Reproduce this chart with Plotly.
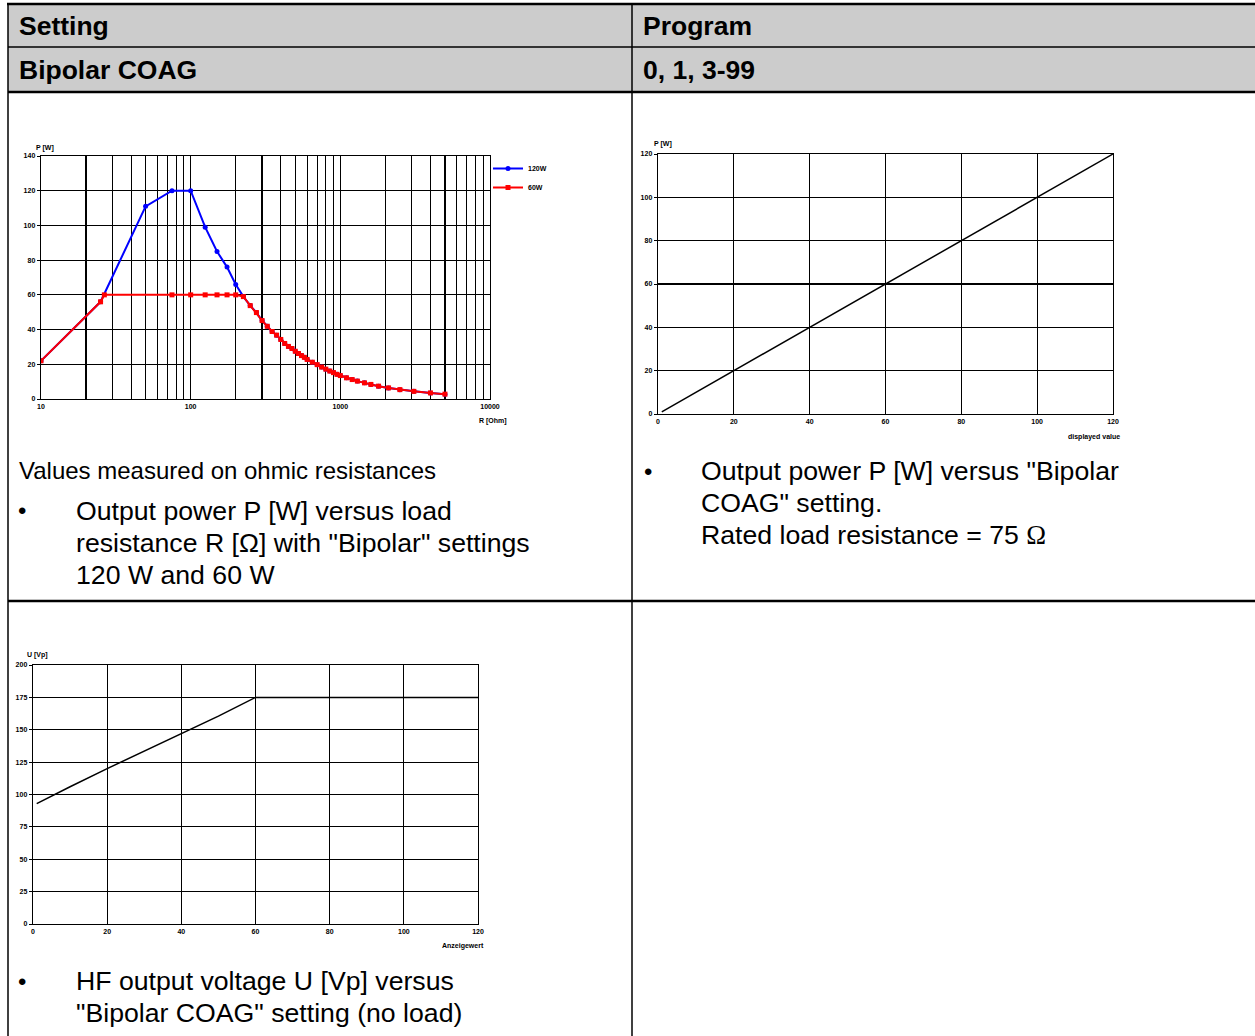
import plotly.graph_objects as go

# ---------------- data ----------------
# Chart 1: output power vs load resistance (log x)
r_120w = [10, 25, 50, 75, 100, 125, 150, 175, 200, 225,
          250, 275, 300, 325, 350, 375, 400, 425, 450, 475, 500, 525, 550, 575, 600,
          650, 700, 750, 800, 850, 900, 950, 1000, 1100, 1200, 1300, 1450, 1600,
          1800, 2100, 2500, 3100, 4000, 5000]
p_120w = [22, 56, 111, 120, 120, 99, 85, 76, 66, 59,
          53.8, 49.8, 45.2, 41.9, 38.9, 36.8, 34.3, 32.0, 30.3, 29.1, 27.5, 26.2, 25.0, 24.0, 22.8,
          21.2, 19.8, 18.4, 17.2, 16.1, 15.2, 14.2, 13.5, 12.2, 11.2, 10.3, 9.3, 8.4,
          7.4, 6.4, 5.4, 4.4, 3.5, 2.8]
r_60w = [10, 25, 26.5, 75, 100, 125, 150, 175, 200, 225,
         250, 275, 300, 325, 350, 375, 400, 425, 450, 475, 500, 525, 550, 575, 600,
         650, 700, 750, 800, 850, 900, 950, 1000, 1100, 1200, 1300, 1450, 1600,
         1800, 2100, 2500, 3100, 4000, 5000]
p_60w = [22, 56, 60, 60, 60, 60, 60, 60, 60, 59,
         53.8, 49.8, 45.2, 41.9, 38.9, 36.8, 34.3, 32.0, 30.3, 29.1, 27.5, 26.2, 25.0, 24.0, 22.8,
         21.2, 19.8, 18.4, 17.2, 16.1, 15.2, 14.2, 13.5, 12.2, 11.2, 10.3, 9.3, 8.4,
         7.4, 6.4, 5.4, 4.4, 3.5, 2.8]
log_grid_vals = [10, 20, 30, 40, 50, 60, 70, 80, 90,
                 100, 200, 300, 400, 500, 600, 700, 800, 900,
                 1000, 2000, 3000, 4000, 5000, 6000, 7000, 8000, 9000, 10000]
log_grid_text = ["10", "", "", "", "", "", "", "", "",
                 "100", "", "", "", "", "", "", "", "",
                 "1000", "", "", "", "", "", "", "", "", "10000"]

# Chart 2: output power vs displayed value
setting_vals = [1, 20, 40, 60, 80, 100, 120]
power_vals = [1, 20, 40, 60, 80, 100, 120]

# Chart 3: HF voltage vs setting (no load)
u_setting = [1, 5, 10, 20, 30, 40, 50, 60, 80, 100, 120]
u_vp = [93, 99, 106, 120, 133.5, 146.5, 160.5, 175, 175, 175, 175]

# ---------------- layout helpers ----------------
W, H = 1255, 1036


def px(x):
    return x / W


def py(y):
    return 1 - y / H


FONT = "Liberation Sans, Arial, sans-serif"
tickfont = dict(family=FONT, size=7, color="black", weight="bold")

fig = go.Figure()

fig.add_trace(go.Scatter(x=r_120w, y=p_120w, mode="lines+markers", name="120W",
                         line=dict(color="#0000ff", width=2),
                         marker=dict(color="#0000ff", size=5, symbol="circle"),
                         xaxis="x", yaxis="y"))
fig.add_trace(go.Scatter(x=r_60w, y=p_60w, mode="lines+markers", name="60W",
                         line=dict(color="#ff0000", width=2),
                         marker=dict(color="#ff0000", size=5, symbol="square"),
                         xaxis="x", yaxis="y"))
fig.add_trace(go.Scatter(x=setting_vals, y=power_vals, mode="lines", showlegend=False,
                         line=dict(color="black", width=1.5), xaxis="x2", yaxis="y2"))
fig.add_trace(go.Scatter(x=u_setting, y=u_vp, mode="lines", showlegend=False,
                         line=dict(color="black", width=1.5), xaxis="x3", yaxis="y3"))

axis_common = dict(showline=True, linecolor="black", linewidth=1.3, mirror=True,
                   showgrid=True, gridcolor="black", gridwidth=1.2, zeroline=False,
                   tickfont=tickfont, tickcolor="black", fixedrange=True,
                   automargin=False)

fig.update_layout(
    width=W, height=H, autosize=False,
    margin=dict(l=0, r=0, t=0, b=0, pad=0, autoexpand=False),
    paper_bgcolor="white", plot_bgcolor="white",
    xaxis=dict(axis_common, type="log", range=[1, 4], domain=[px(41), px(490)],
               anchor="y", tickvals=log_grid_vals, ticktext=log_grid_text, ticks=""),
    yaxis=dict(axis_common, range=[0, 140], dtick=20, domain=[py(399), py(156)],
               anchor="x", ticks="outside", ticklen=3),
    xaxis2=dict(axis_common, range=[0, 120], dtick=20, domain=[px(658), px(1113)],
                anchor="y2", ticks=""),
    yaxis2=dict(axis_common, range=[0, 120], dtick=20, domain=[py(414), py(154)],
                anchor="x2", ticks="outside", ticklen=3),
    xaxis3=dict(axis_common, range=[0, 120], dtick=20, domain=[px(33), px(478)],
                anchor="y3", ticks=""),
    yaxis3=dict(axis_common, range=[0, 200], dtick=25, domain=[py(924), py(665)],
                anchor="x3", ticks="outside", ticklen=3),
    legend=dict(x=px(488), y=py(154), xanchor="left", yanchor="top",
                font=dict(family=FONT, size=7, color="black", weight="bold"),
                bgcolor="rgba(0,0,0,0)", itemwidth=30, tracegroupgap=0),
)

# ---------------- table ----------------
GRAY = "#cccccc"
shapes = [
    dict(type="rect", xref="paper", yref="paper", x0=px(8), x1=px(1255), y0=py(92), y1=py(4),
         fillcolor=GRAY, line=dict(width=0), layer="below"),
]


def hline(y, x0, x1, w):
    shapes.append(dict(type="line", xref="paper", yref="paper", x0=px(x0), x1=px(x1),
                       y0=py(y), y1=py(y), line=dict(color="black", width=w)))


def vline(x, y0, y1, w):
    shapes.append(dict(type="line", xref="paper", yref="paper", x0=px(x), x1=px(x),
                       y0=py(y0), y1=py(y1), line=dict(color="black", width=w)))


hline(4, 7, 1255, 2.5)
hline(47, 8, 1255, 1.5)
hline(92, 8, 1255, 2.5)
hline(601, 8, 1255, 2.5)
vline(8, 3, 1036, 1.5)
vline(632, 3, 1036, 1.5)
fig.update_layout(shapes=shapes)

# ---------------- text ----------------
annots = []


def text(x, y, s, size=26.67, bold=False, xanchor="left", family=FONT):
    annots.append(dict(x=px(x), y=py(y), xref="paper", yref="paper", text=s,
                       showarrow=False, xanchor=xanchor, yanchor="middle",
                       font=dict(family=family, size=size, color="black",
                                 weight="bold" if bold else "normal")))


text(17, 26, "Setting", 26.5, True)
text(641, 26, "Program", 26.5, True)
text(17, 70, "Bipolar COAG", 26.5, True)
text(641, 70, "0, 1, 3-99", 26.5, True)

text(17, 470, "Values measured on ohmic resistances", 24)
text(22, 511, "•", 24, xanchor="center")
text(74, 511, "Output power P [W] versus load")
text(74, 543, "resistance R [Ω] with \"Bipolar\" settings")
text(74, 575, "120 W and 60 W")

text(648, 471, "•", 24, xanchor="center")
text(699, 471, "Output power P [W] versus \"Bipolar")
text(699, 503, "COAG\" setting.")
text(699, 535, "Rated load resistance = 75 <span style=\"font-family:'Liberation Serif'\">Ω</span>")

text(22, 981, "•", 24, xanchor="center")
text(74, 981, "HF output voltage U [Vp] versus")
text(74, 1013, "\"Bipolar COAG\" setting (no load)")

# axis titles of the small charts
small = dict(size=7, bold=True)
text(34, 148, "P [W]", **small)
text(509, 421, "R [Ohm]", xanchor="right", **small)
text(652, 144, "P [W]", **small)
text(1122, 437, "displayed value", xanchor="right", **small)
text(25, 655, "U [Vp]", **small)
text(486, 946, "Anzeigewert", xanchor="right", **small)

fig.update_layout(annotations=annots)

fig.write_html("out.html",
               config={"displayModeBar": False, "staticPlot": True},
               post_script="document.documentElement.style.margin='0px';"
                           "document.body.style.margin='0px';"
                           "document.body.style.padding='0px';"
                           "document.documentElement.style.overflow='hidden';"
                           "document.body.style.overflow='hidden';")
